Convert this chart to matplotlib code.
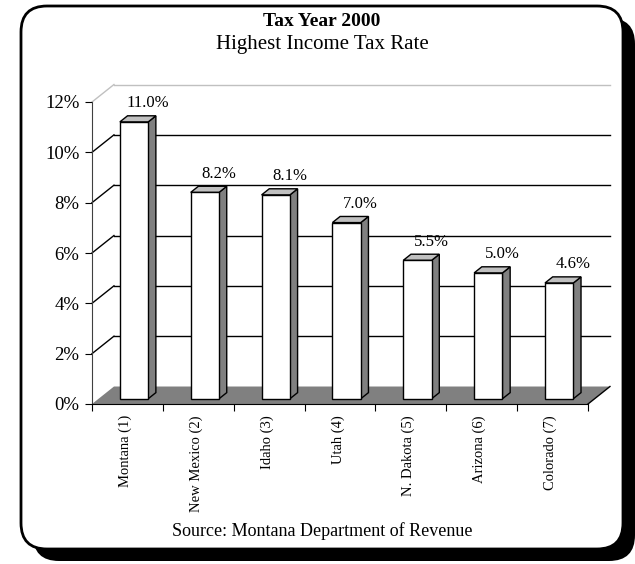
import matplotlib
matplotlib.use("Agg")
import matplotlib.pyplot as plt
from matplotlib.patches import FancyBboxPatch, Polygon
import numpy as np

# data
states = ["Montana (1)", "New Mexico (2)", "Idaho (3)", "Utah (4)",
          "N. Dakota (5)", "Arizona (6)", "Colorado (7)"]
rates = [11.0, 8.2, 8.1, 7.0, 5.5, 5.0, 4.6]
yticks = [0, 2, 4, 6, 8, 10, 12]
title = "Tax Year 2000"
subtitle = "Highest Income Tax Rate"
source = "Source: Montana Department of Revenue"

plt.rcParams['font.family'] = ['Liberation Serif', 'DejaVu Serif']

W, H = 635, 564
fig = plt.figure(figsize=(W / 100, H / 100), dpi=100)

# background axes in pixel units for the rounded frame
bg = fig.add_axes([0, 0, 1, 1])
bg.set_xlim(0, W)
bg.set_ylim(H, 0)
bg.axis('off')
bg.add_patch(FancyBboxPatch((33, 18), 602, 543, boxstyle="round,pad=0,rounding_size=26",
                            facecolor='black', edgecolor='black', lw=0))
bg.add_patch(FancyBboxPatch((21, 6), 602, 543, boxstyle="round,pad=0,rounding_size=26",
                            facecolor='white', edgecolor='black', lw=2))

fig.text(322 / W, 1 - 21 / H, title, ha='center', va='center', fontsize=14, fontweight='bold')
fig.text(322 / W, 1 - 45 / H, subtitle, ha='center', va='center', fontsize=15)
fig.text(322 / W, 1 - 531 / H, source, ha='center', va='center', fontsize=13)

# chart axes: x = category slots, y = percent
n = len(rates)
ax = fig.add_axes([92 / W, 1 - 404 / H, 496 / W, 302 / H])
ax.set_xlim(0, n)
ax.set_ylim(0, 12)
ax.patch.set_alpha(0)

DX, DY = 0.31, 0.695      # depth of the box in data units
f0, fd = 0.30, 0.35       # bar front position / bar depth as fraction of DX, DY
bw = 0.4

# back wall grid lines
for v in yticks[1:]:
    c = '#c0c0c0' if v == 12 else 'black'
    ax.plot([DX, n + DX], [v + DY, v + DY], color=c, lw=1, clip_on=False, zorder=1)
    ax.plot([0, DX], [v, v + DY], color=c, lw=1, clip_on=False, zorder=1)

# floor
ax.add_patch(Polygon([(0, 0), (n, 0), (n + DX, DY), (DX, DY)], closed=True,
                     facecolor='#808080', edgecolor='none', clip_on=False, zorder=2))
ax.plot([n, n + DX], [0, DY], color='black', lw=1, clip_on=False, zorder=2)

# bars
x = np.arange(n) + 0.5 + f0 * DX
y0 = f0 * DY
bdx, bdy = fd * DX, fd * DY
for xi, v in zip(x, rates):
    xr = xi + bw / 2
    xl = xi - bw / 2
    ax.add_patch(Polygon([(xr, y0), (xr + bdx, y0 + bdy), (xr + bdx, y0 + v + bdy), (xr, y0 + v)],
                         closed=True, facecolor='#808080', edgecolor='black', lw=1,
                         clip_on=False, zorder=3))
    ax.add_patch(Polygon([(xl, y0 + v), (xr, y0 + v), (xr + bdx, y0 + v + bdy), (xl + bdx, y0 + v + bdy)],
                         closed=True, facecolor='#c0c0c0', edgecolor='black', lw=1,
                         clip_on=False, zorder=3))
ax.bar(x, rates, width=bw, bottom=y0, color='white', edgecolor='black', lw=1,
       zorder=4, clip_on=False)

for i, v in enumerate(rates):
    ax.text(i + 0.5 + 0.29, v + 0.95, f"{v:.1f}%", ha='center', va='center', fontsize=12)

# axes styling
for s in ['top', 'right']:
    ax.spines[s].set_visible(False)
ax.spines['left'].set_color('#404040')
ax.spines['bottom'].set_color('black')
ax.spines['left'].set_zorder(5)
ax.spines['bottom'].set_zorder(5)

ax.set_yticks(yticks)
ax.set_yticklabels([f"{t}%" for t in yticks], fontsize=13.5)
ax.tick_params(axis='y', direction='out', length=5, pad=4)

ax.set_xticks(np.arange(n + 1))
ax.set_xticklabels([])
ax.tick_params(axis='x', which='major', direction='out', length=5)
ax.set_xticks(np.arange(n) + 0.47, minor=True)
ax.set_xticklabels(states, minor=True, rotation=90, fontsize=10.5, va='top')
ax.tick_params(axis='x', which='minor', length=0, pad=8)

fig.savefig("out.png", dpi=100)
